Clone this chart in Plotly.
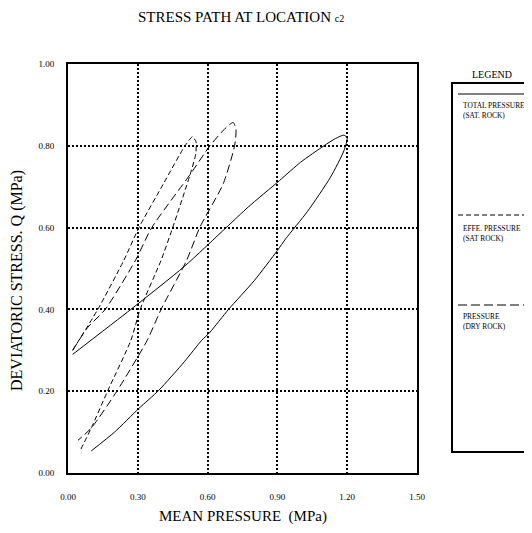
import plotly.graph_objects as go

# ---- data ----
total_p = [0.02, 0.27, 0.50, 0.68, 0.774, 0.909, 1.00, 1.10, 1.15, 1.185, 1.20, 1.186, 1.128, 1.03, 0.936, 0.90, 0.80, 0.69, 0.61, 0.574, 0.50, 0.39, 0.305, 0.20, 0.10]
total_q = [0.29, 0.40, 0.505, 0.60, 0.65, 0.715, 0.76, 0.80, 0.818, 0.826, 0.82, 0.788, 0.723, 0.64, 0.573, 0.544, 0.47, 0.40, 0.344, 0.324, 0.272, 0.202, 0.158, 0.10, 0.054]

effe_p = [0.02, 0.128, 0.24, 0.305, 0.41, 0.503, 0.535, 0.55, 0.549, 0.525, 0.45, 0.40, 0.31, 0.27, 0.17, 0.10, 0.05]
effe_q = [0.30, 0.40, 0.52, 0.60, 0.707, 0.80, 0.822, 0.81, 0.78, 0.73, 0.60, 0.52, 0.40, 0.324, 0.20, 0.11, 0.052]

dry_p = [0.02, 0.085, 0.16, 0.29, 0.36, 0.525, 0.61, 0.68, 0.71, 0.722, 0.716, 0.667, 0.566, 0.51, 0.40, 0.34, 0.21, 0.10, 0.043]
dry_q = [0.30, 0.356, 0.40, 0.52, 0.60, 0.73, 0.80, 0.845, 0.857, 0.84, 0.80, 0.707, 0.60, 0.52, 0.40, 0.324, 0.20, 0.11, 0.08]

x_ticks = [0.0, 0.3, 0.6, 0.9, 1.2, 1.5]
x_tick_labels = ["0.00", "0.30", "0.60", "0.90", "1.20", "1.50"]
y_ticks = [0.0, 0.2, 0.4, 0.6, 0.8, 1.0]
y_tick_labels = ["0.00", "0.20", "0.40", "0.60", "0.80", "1.00"]

legend_labels = [("TOTAL PRESSURE", "(SAT. ROCK)"), ("EFFE. PRESSURE", "(SAT ROCK)"), ("PRESSURE", "(DRY ROCK)")]

FONT = "Liberation Serif, Times New Roman, serif"
OFF = 8  # page body margin
W, H = 532 - OFF, 533 - OFF
L, R, T, B = 68, 417, 64, 473  # plot area pixel box in screenshot coordinates


def px(x):
    return (x - L) / (R - L)


def py(y):
    return (B - y) / (B - T)


fig = go.Figure()
fig.add_trace(go.Scatter(x=total_p, y=total_q, mode="lines", line=dict(color="black", width=1, shape="spline", smoothing=0.6)))
fig.add_trace(go.Scatter(x=effe_p, y=effe_q, mode="lines", line=dict(color="black", width=1, dash="5px,3px", shape="spline", smoothing=0.6)))
fig.add_trace(go.Scatter(x=dry_p, y=dry_q, mode="lines", line=dict(color="black", width=1, dash="8px,4px", shape="spline", smoothing=0.6)))

axis_common = dict(showgrid=True, gridcolor="black", griddash="1.5px,2.5px", gridwidth=1.5,
                   zeroline=False, showline=True, linecolor="black", linewidth=2, mirror=True,
                   ticks="", tickfont=dict(family=FONT, size=9, color="black"))
fig.update_xaxes(range=[0, 1.5], tickvals=x_ticks, ticktext=x_tick_labels, ticklabelstandoff=14, **axis_common)
fig.update_yaxes(range=[0, 1.0], tickvals=y_ticks, ticktext=y_tick_labels, ticklabelstandoff=10, **axis_common)

shapes = []
# legend box
shapes.append(dict(type="rect", xref="paper", yref="paper", x0=px(452), x1=px(545), y0=py(452), y1=py(83),
                   line=dict(color="black", width=2), fillcolor="rgba(0,0,0,0)"))
# legend sample lines
for yy, dash in [(94, "solid"), (215, "5px,3px"), (305, "9px,4px")]:
    shapes.append(dict(type="line", xref="paper", yref="paper", x0=px(458), x1=px(531), y0=py(yy), y1=py(yy),
                       line=dict(color="black", width=1, dash=dash)))

annotations = []
annotations.append(dict(text="STRESS PATH AT LOCATION <span style='font-size:10px'>c2</span>", xref="paper", yref="paper",
                        x=px(241), y=py(17), showarrow=False, xanchor="center", yanchor="middle",
                        font=dict(family=FONT, size=15, color="black")))
annotations.append(dict(text="MEAN PRESSURE  (MPa)", xref="paper", yref="paper", x=px(243), y=py(516),
                        showarrow=False, xanchor="center", yanchor="middle",
                        font=dict(family=FONT, size=15, color="black")))
annotations.append(dict(text="DEVIATORIC STRESS. Q (MPa)", xref="paper", yref="paper", x=px(17), y=py(281),
                        showarrow=False, xanchor="center", yanchor="middle", textangle=-90,
                        font=dict(family=FONT, size=16, color="black")))
annotations.append(dict(text="LEGEND", xref="paper", yref="paper", x=px(492), y=py(74),
                        showarrow=False, xanchor="center", yanchor="middle",
                        font=dict(family=FONT, size=10, color="black")))
for (l1, l2), yy in zip(legend_labels, [105, 228, 316]):
    annotations.append(dict(text=l1 + "<br>" + l2, xref="paper", yref="paper", x=px(461), y=py(yy - 6),
                            showarrow=False, xanchor="left", yanchor="top", align="left",
                            font=dict(family=FONT, size=7.4, color="black")))

fig.update_layout(width=W, height=H, margin=dict(l=L - OFF, r=W - (R - OFF), t=T - OFF, b=H - (B - OFF)),
                  paper_bgcolor="white", plot_bgcolor="white", showlegend=False,
                  shapes=shapes, annotations=annotations)

fig.write_html("out.html", config={"displayModeBar": False})
